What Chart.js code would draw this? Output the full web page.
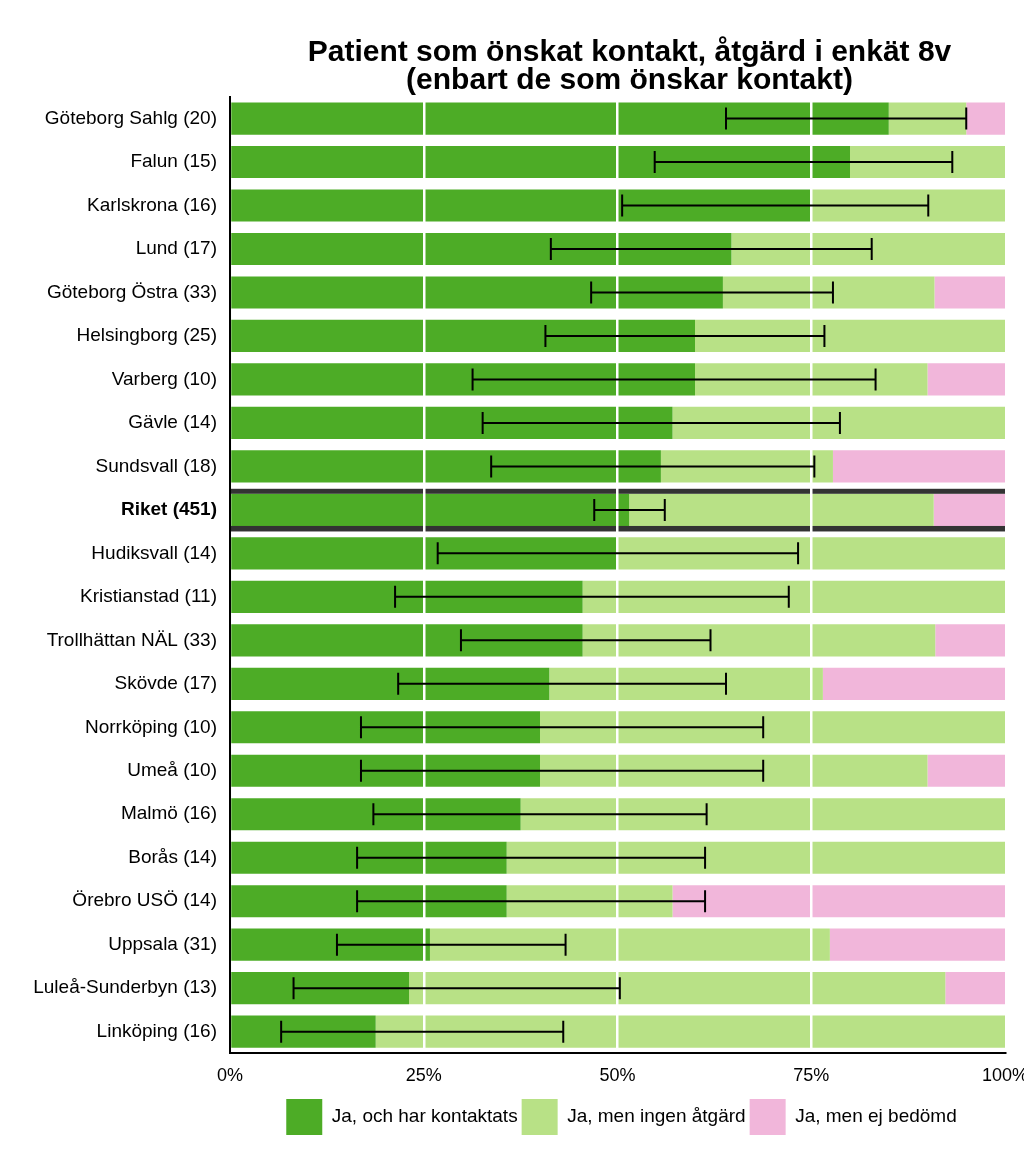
<!DOCTYPE html>
<html>
<head>
<meta charset="utf-8">
<script src="https://cdn.jsdelivr.net/npm/chart.js@4.4.1/dist/chart.umd.min.js"></script>
<style>
    html, body { margin: 0; padding: 0; background: #ffffff; }
    #chart { display: block; }
</style>
</head>
<body>
<canvas id="chart" width="1024" height="1170"></canvas>
<script>
// Units and sample sizes
const units = [
    'Göteborg Sahlg (20)', 'Falun (15)', 'Karlskrona (16)', 'Lund (17)',
    'Göteborg Östra (33)', 'Helsingborg (25)', 'Varberg (10)', 'Gävle (14)',
    'Sundsvall (18)', 'Riket (451)', 'Hudiksvall (14)', 'Kristianstad (11)',
    'Trollhättan NÄL (33)', 'Skövde (17)', 'Norrköping (10)', 'Umeå (10)',
    'Malmö (16)', 'Borås (14)', 'Örebro USÖ (14)', 'Uppsala (31)',
    'Luleå-Sunderbyn (13)', 'Linköping (16)'
];

// Shares in percent
const contacted = [85, 80, 75, 64.7, 63.6, 60, 60, 57.1, 55.6, 51.5, 50, 45.5, 45.5, 41.2, 40, 40, 37.5, 35.7, 35.7, 25.8, 23.1, 18.8];
const noAction = [10, 20, 25, 35.3, 27.3, 40, 30, 42.9, 22.2, 39.3, 50, 54.5, 45.5, 35.3, 60, 50, 62.5, 64.3, 21.4, 51.6, 69.2, 81.2];
const notAssessed = [5, 0, 0, 0, 9.1, 0, 10, 0, 22.2, 9.2, 0, 0, 9.1, 23.5, 0, 10, 0, 0, 42.9, 22.6, 7.7, 0];

// Confidence interval for "contacted"
const ciLow = [64, 54.8, 50.6, 41.4, 46.6, 40.7, 31.3, 32.6, 33.7, 47, 26.8, 21.3, 29.8, 21.7, 16.9, 16.9, 18.5, 16.4, 16.4, 13.8, 8.2, 6.6];
const ciHigh = [95, 93.2, 90.1, 82.8, 77.8, 76.7, 83.3, 78.7, 75.4, 56.1, 73.3, 72.1, 62, 64, 68.8, 68.8, 61.5, 61.3, 61.3, 43.3, 50.3, 43];

const xTicks = [0, 25, 50, 75, 100];
const legendLabels = ['Ja, och har kontaktats', 'Ja, men ingen åtgärd', 'Ja, men ej bedömd'];
const titleLines = ['Patient som önskat kontakt, åtgärd i enkät 8v', '(enbart de som önskar kontakt)'];

const COLORS = {
    contacted: '#4dac26',
    noAction: '#b8e186',
    notAssessed: '#f1b6da',
    riket: '#333333'
};

const RIKET = units.findIndex(u => u.startsWith('Riket'));
const FONT = "'Liberation Sans', Arial, sans-serif";

// Nudge title and legend a little to the right, like the original
const nudgeBoxes = {
    id: 'nudgeBoxes',
    afterLayout(chart) {
        if (chart.titleBlock) {
            chart.titleBlock.left += 12;
            chart.titleBlock.right += 12;
        }
        if (chart.legend) {
            chart.legend.left += 4;
            chart.legend.right += 4;
        }
    }
};

// Thick lines around the national row, drawn under the grid
const riketLines = {
    id: 'riketLines',
    afterDatasetsDraw(chart) {
        const { ctx, chartArea } = chart;
        const bar = chart.getDatasetMeta(0).data[RIKET];
        if (!bar) return;
        const half = bar.height / 2;
        ctx.save();
        ctx.fillStyle = COLORS.riket;
        ctx.fillRect(chartArea.left, bar.y - half - 5, chartArea.right - chartArea.left, 5);
        ctx.fillRect(chartArea.left, bar.y + half, chartArea.right - chartArea.left, 5.5);
        ctx.restore();
    }
};

// Error bars on top of everything
const errorBars = {
    id: 'errorBars',
    afterDraw(chart) {
        const { ctx } = chart;
        const xScale = chart.scales.x;
        const yScale = chart.scales.y;
        ctx.save();
        ctx.strokeStyle = '#000000';
        ctx.lineWidth = 2;
        units.forEach((u, i) => {
            const y = yScale.getPixelForValue(i);
            const x1 = xScale.getPixelForValue(ciLow[i]);
            const x2 = xScale.getPixelForValue(ciHigh[i]);
            ctx.beginPath();
            ctx.moveTo(x1, y);
            ctx.lineTo(x2, y);
            ctx.moveTo(x1, y - 11);
            ctx.lineTo(x1, y + 11);
            ctx.moveTo(x2, y - 11);
            ctx.lineTo(x2, y + 11);
            ctx.stroke();
        });
        ctx.restore();
    }
};

new Chart(document.getElementById('chart'), {
    type: 'bar',
    data: {
        labels: units,
        datasets: [
            { label: legendLabels[0], data: contacted, backgroundColor: COLORS.contacted },
            { label: legendLabels[1], data: noAction, backgroundColor: COLORS.noAction },
            { label: legendLabels[2], data: notAssessed, backgroundColor: COLORS.notAssessed }
        ]
    },
    options: {
        indexAxis: 'y',
        responsive: false,
        animation: false,
        devicePixelRatio: 1,
        layout: {
            padding: { left: 0, right: 19, top: 0, bottom: 25 }
        },
        datasets: {
            bar: {
                categoryPercentage: 1,
                barPercentage: 0.74,
                borderWidth: 0
            }
        },
        plugins: {
            title: {
                display: true,
                text: titleLines,
                fullSize: false,
                color: '#000000',
                font: { family: FONT, size: 30, weight: 'bold', lineHeight: 0.93 },
                padding: { top: 39, bottom: 2 }
            },
            legend: {
                position: 'bottom',
                fullSize: false,
                labels: {
                    boxWidth: 36,
                    boxHeight: 36,
                    padding: 4,
                    color: '#000000',
                    font: { family: FONT, size: 19 }
                }
            },
            tooltip: { enabled: false }
        },
        scales: {
            x: {
                stacked: true,
                min: 0,
                max: 100,
                afterBuildTicks: scale => {
                    scale.ticks = xTicks.map(v => ({ value: v }));
                },
                afterFit: scale => {
                    // let the "100%" label run to the edge as in the original
                    scale.paddingRight = 0;
                    scale.height -= 4;
                },
                grid: {
                    z: 1,
                    drawTicks: false,
                    lineWidth: 2.5,
                    color: ctx => (ctx.tick && ctx.tick.value > 0 && ctx.tick.value < 100) ? '#ffffff' : 'rgba(0,0,0,0)'
                },
                border: { display: true, color: '#000000', width: 2, z: 2 },
                ticks: {
                    color: '#000000',
                    padding: 12,
                    font: { family: FONT, size: 18 },
                    callback: value => value + '%'
                }
            },
            y: {
                stacked: true,
                afterFit: scale => { scale.width = 230; },
                grid: { display: false, drawTicks: false },
                border: { display: true, color: '#000000', width: 2, z: 2 },
                ticks: {
                    color: '#000000',
                    padding: 13,
                    font: ctx => ({
                        family: FONT,
                        size: 19,
                        weight: ctx.index === RIKET ? 'bold' : 'normal'
                    })
                }
            }
        }
    },
    plugins: [nudgeBoxes, riketLines, errorBars]
});
</script>
</body>
</html>
